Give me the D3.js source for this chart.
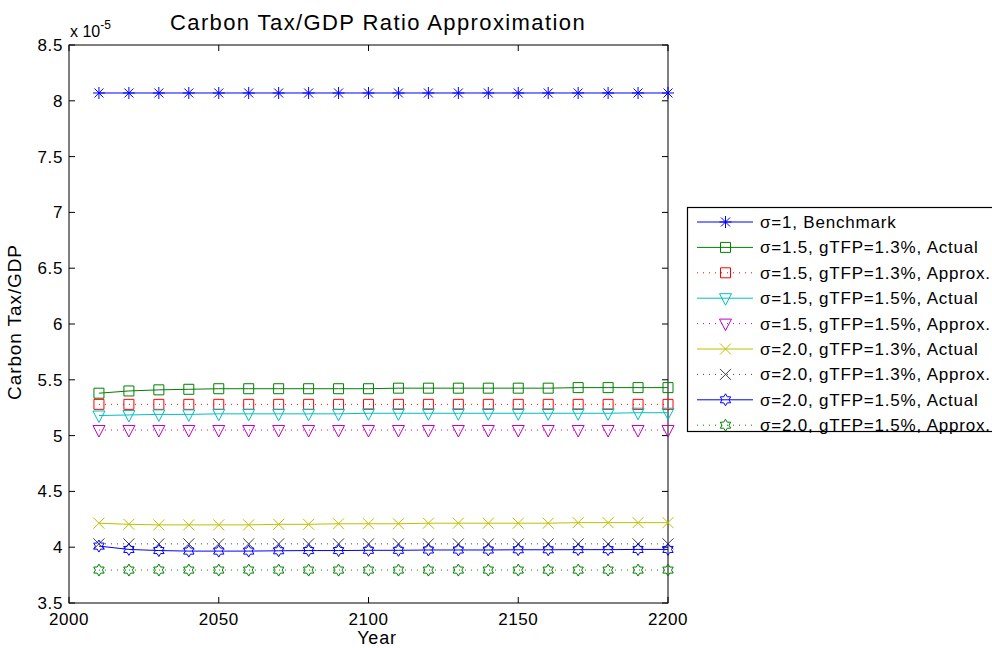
<!DOCTYPE html>
<html>
<head>
<meta charset="utf-8">
<script src="https://cdn.jsdelivr.net/npm/d3@7"></script>
<style>
  body { margin: 0; background: #fff; }
  svg { display: block; font-family: "Liberation Sans", Arial, sans-serif; }
</style>
</head>
<body>
<svg id="chart" width="992" height="648"></svg>
<script>
// values in units of 1e-5
const years = [2010, 2020, 2030, 2040, 2050, 2060, 2070, 2080, 2090, 2100,
    2110, 2120, 2130, 2140, 2150, 2160, 2170, 2180, 2190, 2200];

const benchmark = [8.07, 8.07, 8.07, 8.07, 8.07, 8.07, 8.07, 8.07, 8.07, 8.07,
    8.07, 8.07, 8.07, 8.07, 8.07, 8.07, 8.07, 8.07, 8.07, 8.07];
const s15g13Actual = [5.38, 5.40, 5.41, 5.415, 5.42, 5.42, 5.42, 5.42, 5.42, 5.42,
    5.425, 5.425, 5.425, 5.425, 5.425, 5.425, 5.43, 5.43, 5.43, 5.43];
const s15g13Approx = [5.28, 5.28, 5.28, 5.28, 5.28, 5.28, 5.28, 5.28, 5.28, 5.28,
    5.28, 5.28, 5.28, 5.28, 5.28, 5.28, 5.28, 5.28, 5.28, 5.28];
const s15g15Actual = [5.18, 5.185, 5.19, 5.19, 5.195, 5.195, 5.195, 5.195, 5.195, 5.2,
    5.2, 5.2, 5.2, 5.2, 5.2, 5.2, 5.2, 5.2, 5.205, 5.205];
const s15g15Approx = [5.05, 5.05, 5.05, 5.05, 5.05, 5.05, 5.05, 5.05, 5.05, 5.05,
    5.05, 5.05, 5.05, 5.05, 5.05, 5.05, 5.05, 5.05, 5.05, 5.05];
const s20g13Actual = [4.215, 4.205, 4.2, 4.2, 4.2, 4.2, 4.205, 4.205, 4.21, 4.21,
    4.21, 4.215, 4.215, 4.215, 4.215, 4.215, 4.22, 4.22, 4.22, 4.22];
const s20g13Approx = [4.03, 4.03, 4.03, 4.03, 4.03, 4.03, 4.03, 4.03, 4.03, 4.03,
    4.03, 4.03, 4.03, 4.03, 4.03, 4.03, 4.03, 4.03, 4.03, 4.03];
const s20g15Actual = [4.01, 3.98, 3.97, 3.965, 3.965, 3.965, 3.968, 3.97, 3.97, 3.972,
    3.972, 3.975, 3.975, 3.975, 3.977, 3.977, 3.978, 3.978, 3.98, 3.98];
const s20g15Approx = [3.795, 3.795, 3.795, 3.795, 3.795, 3.795, 3.795, 3.795, 3.795, 3.795,
    3.795, 3.795, 3.795, 3.795, 3.795, 3.795, 3.795, 3.795, 3.795, 3.795];

const xTicks = [2000, 2050, 2100, 2150, 2200];
const yTicks = [3.5, 4, 4.5, 5, 5.5, 6, 6.5, 7, 7.5, 8, 8.5];

const series = [
    { label: 'σ=1, Benchmark', values: benchmark, color: '#0000ff', dotted: false, marker: 'star' },
    { label: 'σ=1.5, gTFP=1.3%, Actual', values: s15g13Actual, color: '#008000', dotted: false, marker: 'square' },
    { label: 'σ=1.5, gTFP=1.3%, Approx.', values: s15g13Approx, color: '#ff0000', dotted: true, marker: 'square' },
    { label: 'σ=1.5, gTFP=1.5%, Actual', values: s15g15Actual, color: '#00bfbf', dotted: false, marker: 'tri' },
    { label: 'σ=1.5, gTFP=1.5%, Approx.', values: s15g15Approx, color: '#bf00bf', dotted: true, marker: 'tri' },
    { label: 'σ=2.0, gTFP=1.3%, Actual', values: s20g13Actual, color: '#bfbf00', dotted: false, marker: 'x' },
    { label: 'σ=2.0, gTFP=1.3%, Approx.', values: s20g13Approx, color: '#404040', dotted: true, marker: 'x' },
    { label: 'σ=2.0, gTFP=1.5%, Actual', values: s20g15Actual, color: '#0000ff', dotted: false, marker: 'hex' },
    { label: 'σ=2.0, gTFP=1.5%, Approx.', values: s20g15Approx, color: '#008000', dotted: true, marker: 'hex' },
];

const svg = d3.select('#chart');
const margin = { left: 69, right: 324, top: 45, bottom: 45 };
const width = 992 - margin.left - margin.right,
    height = 648 - margin.top - margin.bottom;

const x = d3.scaleLinear().domain([2000, 2200]).range([margin.left, margin.left + width]);
const y = d3.scaleLinear().domain([3.5, 8.5]).range([margin.top + height, margin.top]);

// marker shapes
function markerPath(type) {
    if (type === 'star') return 'M-6,0L6,0M0,-6L0,6M-4.5,-4.5L4.5,4.5M-4.5,4.5L4.5,-4.5';
    if (type === 'x') return 'M-5.5,-5.5L5.5,5.5M-5.5,5.5L5.5,-5.5';
    if (type === 'square') return 'M-5,-5L5,-5L5,5L-5,5Z';
    if (type === 'tri') return 'M-6,-4.5L6,-4.5L0,7Z';
    if (type === 'hex') {
        const pts = [];
        for (let i = 0; i < 12; i++) {
            const a = -Math.PI / 2 + i * Math.PI / 6;
            const r = i % 2 === 0 ? 6 : 3.5;
            pts.push([r * Math.cos(a), r * Math.sin(a)]);
        }
        return 'M' + pts.map(p => p[0].toFixed(2) + ',' + p[1].toFixed(2)).join('L') + 'Z';
    }
}

// frame
svg.append('rect')
    .attr('x', margin.left).attr('y', margin.top)
    .attr('width', width).attr('height', height)
    .attr('fill', '#fff').attr('stroke', '#000').attr('stroke-width', 1);

// ticks (inward, on all four sides)
const tickLen = 6;
const axisG = svg.append('g').attr('stroke', '#000').attr('stroke-width', 1);
xTicks.forEach(t => {
    axisG.append('line').attr('x1', x(t)).attr('x2', x(t))
        .attr('y1', y(3.5)).attr('y2', y(3.5) - tickLen);
    axisG.append('line').attr('x1', x(t)).attr('x2', x(t))
        .attr('y1', y(8.5)).attr('y2', y(8.5) + tickLen);
});
yTicks.forEach(t => {
    axisG.append('line').attr('x1', x(2000)).attr('x2', x(2000) + tickLen)
        .attr('y1', y(t)).attr('y2', y(t));
    axisG.append('line').attr('x1', x(2200)).attr('x2', x(2200) - tickLen)
        .attr('y1', y(t)).attr('y2', y(t));
});

svg.append('g').selectAll('text').data(xTicks).join('text')
    .attr('x', d => x(d)).attr('y', y(3.5) + 22)
    .attr('text-anchor', 'middle').attr('font-size', 17)
    .attr('letter-spacing', 0.6)
    .text(d => d);

svg.append('g').selectAll('text').data(yTicks).join('text')
    .attr('x', x(2000) - 6).attr('y', d => y(d) + 6)
    .attr('text-anchor', 'end').attr('font-size', 17)
    .attr('letter-spacing', 0.6)
    .text(d => d);

// exponent
const expo = svg.append('text').attr('x', 70).attr('y', 37).attr('font-size', 16);
expo.append('tspan').text('x 10');
expo.append('tspan').attr('dy', -8).attr('font-size', 12).text('-5');

// labels
svg.append('text').attr('x', 378).attr('y', 30)
    .attr('text-anchor', 'middle').attr('font-size', 22)
    .attr('letter-spacing', 1.4)
    .text('Carbon Tax/GDP Ratio Approximation');
svg.append('text').attr('x', 377).attr('y', 644)
    .attr('text-anchor', 'middle').attr('font-size', 18)
    .attr('letter-spacing', 0.8)
    .text('Year');
svg.append('text')
    .attr('transform', 'translate(21,' + (322) + ') rotate(-90)')
    .attr('text-anchor', 'middle').attr('font-size', 19)
    .attr('letter-spacing', 0.9)
    .text('Carbon Tax/GDP');

// series
const line = d3.line().x((d, i) => x(years[i])).y(d => y(d));
const plot = svg.append('g');
series.forEach(s => {
    plot.append('path')
        .attr('d', line(s.values))
        .attr('fill', 'none')
        .attr('stroke', s.color)
        .attr('stroke-width', 1)
        .attr('stroke-dasharray', s.dotted ? '1,5' : null);
    plot.append('g').selectAll('path').data(s.values).join('path')
        .attr('transform', (d, i) => 'translate(' + x(years[i]) + ',' + y(d) + ')')
        .attr('d', markerPath(s.marker))
        .attr('fill', 'none')
        .attr('stroke', s.color)
        .attr('stroke-width', 1);
});

// legend
const lg = svg.append('g');
const lgTop = 207, rowH = 25.4;
lg.append('rect')
    .attr('x', 687.5).attr('y', lgTop + 0.5)
    .attr('width', 330).attr('height', 224)
    .attr('fill', '#fff').attr('stroke', '#000').attr('stroke-width', 1.2);
series.forEach((s, i) => {
    const cy = lgTop + 15 + i * rowH;
    lg.append('line')
        .attr('x1', 697).attr('x2', 753).attr('y1', cy).attr('y2', cy)
        .attr('stroke', s.color).attr('stroke-width', 1)
        .attr('stroke-dasharray', s.dotted ? '1,5' : null);
    lg.append('path')
        .attr('transform', 'translate(725.5,' + cy + ')')
        .attr('d', markerPath(s.marker))
        .attr('fill', 'none').attr('stroke', s.color).attr('stroke-width', 1);
    lg.append('text')
        .attr('x', 760).attr('y', cy + 6)
        .attr('font-size', 17)
        .attr('letter-spacing', 0.8)
        .text(s.label);
});
</script>
</body>
</html>
